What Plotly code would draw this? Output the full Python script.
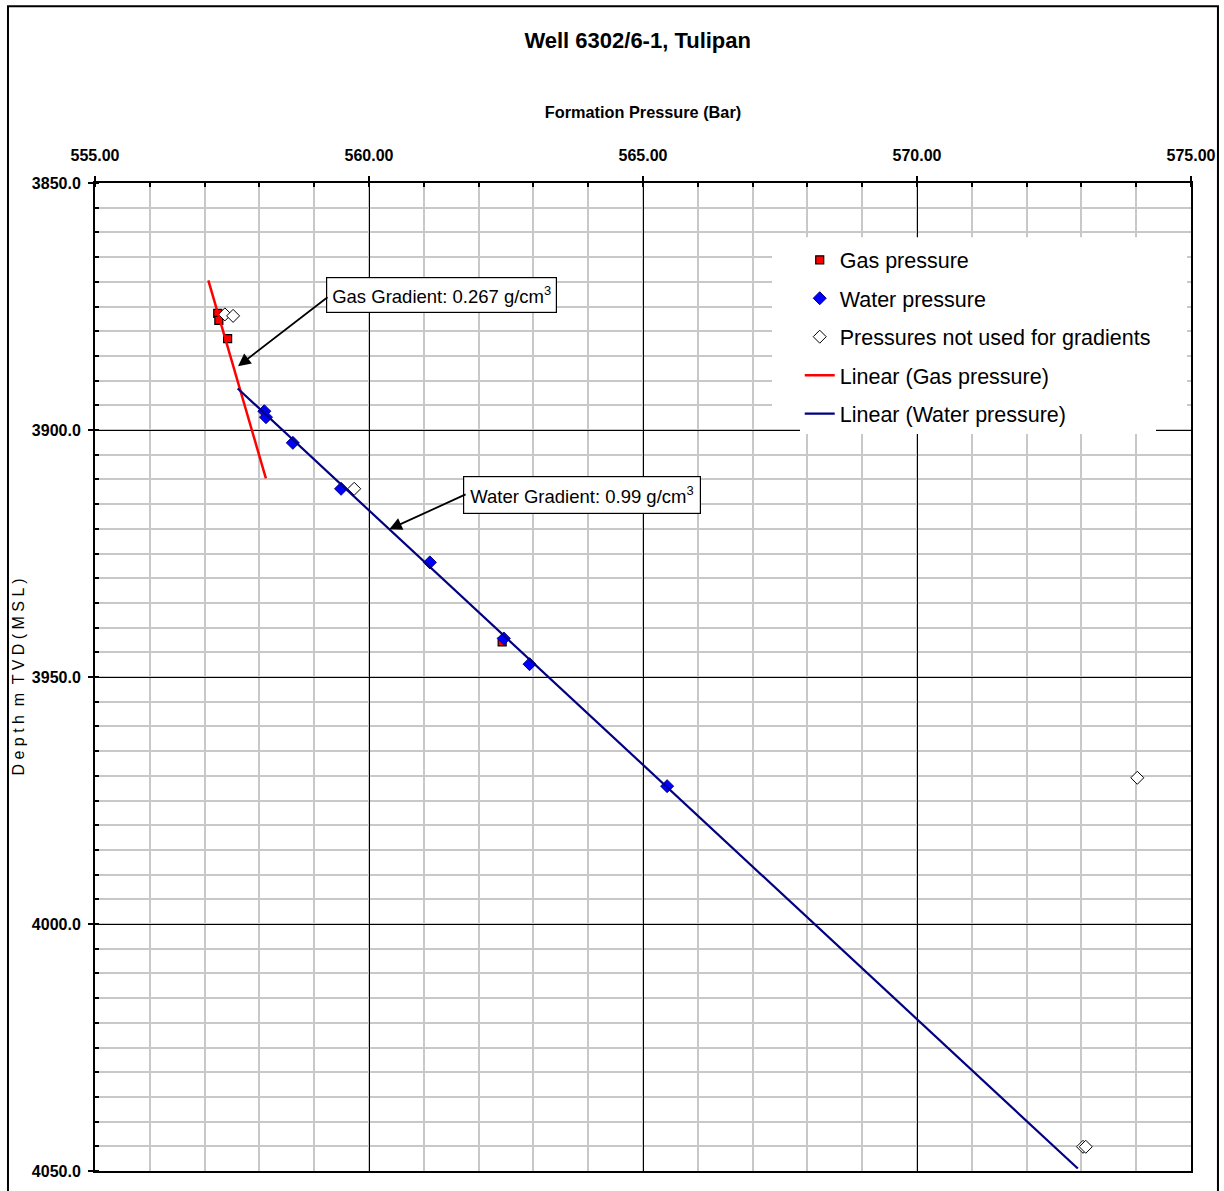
import plotly.graph_objects as go

# Formation pressure (bar) vs depth (m TVD MSL)
gas_pressure = [557.24, 557.26, 557.42, 562.43]
gas_depth = [3876.4, 3877.8, 3881.5, 3942.9]

water_pressure = [558.09, 558.12, 558.61, 559.49, 561.11, 562.46, 562.93, 565.44]
water_depth = [3896.2, 3897.4, 3902.6, 3911.9, 3926.8, 3942.2, 3947.4, 3972.1]

unused_pressure = [557.37, 557.52, 559.73, 574.02, 573.03, 573.08]
unused_depth = [3876.6, 3876.9, 3911.9, 3970.4, 4045.1, 4045.1]

# Gradient trend lines: density (g/cm3), anchor point and depth extent
gas_gradient = 0.267
gas_anchor = (3890.0, 557.60)
gas_extent = [3869.7, 3909.8]

water_gradient = 0.99
water_anchor = (3970.0, 565.216)
water_extent = [3891.6, 4049.5]

G = 9.80665  # m/s2


def trend(gradient, anchor, extent):
    bar_per_m = gradient * 1000 * G / 1e5
    d0, p0 = anchor
    return [p0 + (d - d0) * bar_per_m for d in extent], extent


gas_line_p, gas_line_d = trend(gas_gradient, gas_anchor, gas_extent)
water_line_p, water_line_d = trend(water_gradient, water_anchor, water_extent)

NARROW = "Liberation Sans Narrow, Arial Narrow, Liberation Sans, Arial, sans-serif"
REG = "Liberation Sans, Arial, sans-serif"

fig = go.Figure()
fig.add_trace(go.Scatter(
    x=gas_pressure, y=gas_depth, mode="markers", name="Gas pressure",
    legendgroup="a",
    marker=dict(symbol="square", size=8, color="#ff0000",
                line=dict(color="#000000", width=1.2))))
fig.add_trace(go.Scatter(
    x=water_pressure, y=water_depth, mode="markers", name="Water pressure",
    legendgroup="b",
    marker=dict(symbol="diamond", size=10, color="#0000ff",
                line=dict(color="#000080", width=1))))
fig.add_trace(go.Scatter(
    x=unused_pressure, y=unused_depth, mode="markers",
    name="Pressures not used for gradients", legendgroup="c",
    marker=dict(symbol="diamond", size=10, color="#ffffff",
                line=dict(color="#000000", width=1))))
fig.add_trace(go.Scatter(
    x=gas_line_p, y=gas_line_d, mode="lines", name="Linear (Gas pressure)",
    legendgroup="d", line=dict(color="#ff0000", width=2.5)))
fig.add_trace(go.Scatter(
    x=water_line_p, y=water_line_d, mode="lines",
    name="Linear (Water pressure)", legendgroup="e",
    line=dict(color="#000080", width=2.2)))

# Gradient labels and their arrows
fig.add_annotation(
    x=561.33, y=3872.7, xref="x", yref="y", showarrow=False,
    text="Gas Gradient: 0.267 g/cm<sup>3</sup>",
    font=dict(family=NARROW, size=18.5, color="#000000"),
    bgcolor="#ffffff", bordercolor="#000000", borderwidth=1.2, borderpad=5)
fig.add_annotation(
    x=557.61, y=3887.1, xref="x", yref="y", ax=559.27, ay=3872.9,
    axref="x", ayref="y", text="", showarrow=True,
    arrowhead=2, arrowsize=1.4, arrowwidth=1.8, arrowcolor="#000000")
fig.add_annotation(
    x=563.895, y=3913.2, xref="x", yref="y", showarrow=False,
    text="Water Gradient: 0.99 g/cm<sup>3</sup>",
    font=dict(family=NARROW, size=18.5, color="#000000"),
    bgcolor="#ffffff", bordercolor="#000000", borderwidth=1.2, borderpad=6)
fig.add_annotation(
    x=560.37, y=3920.1, xref="x", yref="y", ax=561.79, ay=3912.9,
    axref="x", ayref="y", text="", showarrow=True,
    arrowhead=2, arrowsize=1.4, arrowwidth=1.8, arrowcolor="#000000")

# White panel behind the legend, outer frame
fig.add_shape(type="rect", xref="paper", yref="paper",
              x0=0.6177, x1=0.9964, y0=0.7518, y1=0.945,
              fillcolor="#ffffff", line=dict(width=0), layer="above")
fig.add_shape(type="rect", xref="paper", yref="paper",
              x0=-0.0794, x1=1.0246, y0=-0.05, y1=1.1788,
              line=dict(color="#000000", width=2), fillcolor="rgba(0,0,0,0)")

fig.update_xaxes(
    side="top", range=[555, 575], dtick=5, tick0=555, tickformat=".2f",
    automargin=False,
    showline=True, linecolor="#000000", linewidth=2, mirror=True,
    ticks="outside", ticklen=5, tickcolor="#000000", tickwidth=1.5,
    ticklabelstandoff=9,
    showgrid=True, gridcolor="#000000", gridwidth=1.2, zeroline=False,
    tickfont=dict(family=NARROW, size=16, color="#000000", weight="bold"),
    title=dict(text="<b>Formation Pressure (Bar)</b>",
               font=dict(family=NARROW, size=16.3, color="#000000"),
               standoff=24),
    minor=dict(dtick=1, showgrid=True, gridcolor="#c8c8c8", gridwidth=1.5,
               ticks="inside", ticklen=4, tickcolor="#000000"))
fig.update_yaxes(
    range=[4050, 3850], dtick=50, tick0=3850, tickformat=".1f",
    automargin=False,
    showline=True, linecolor="#000000", linewidth=2, mirror=True,
    ticks="outside", ticklen=5, tickcolor="#000000", tickwidth=1.5,
    ticklabelstandoff=4,
    showgrid=True, gridcolor="#000000", gridwidth=1.2, zeroline=False,
    tickfont=dict(family=NARROW, size=16, color="#000000", weight="bold"),
    title=dict(text="D e p t h  m  T V D ( M S L )",
               font=dict(family=REG, size=16, color="#000000"), standoff=3),
    minor=dict(dtick=5, showgrid=True, gridcolor="#c8c8c8", gridwidth=1.5,
               ticks="inside", ticklen=4, tickcolor="#000000"))

fig.update_layout(
    width=1224, height=1191,
    margin=dict(l=95, r=33, t=183, b=20),
    paper_bgcolor="#ffffff", plot_bgcolor="#ffffff",
    title=dict(text="<b>Well 6302/6-1, Tulipan</b>", x=0.521, xanchor="center",
               y=0.966, yanchor="middle",
               font=dict(family=NARROW, size=22, color="#000000")),
    legend=dict(x=0.643, y=0.943, xanchor="left", yanchor="top",
                bgcolor="#ffffff", borderwidth=0, tracegroupgap=7.5,
                font=dict(family=NARROW, size=21.5, color="#000000")),
    showlegend=True)

fig.write_html("out.html")
